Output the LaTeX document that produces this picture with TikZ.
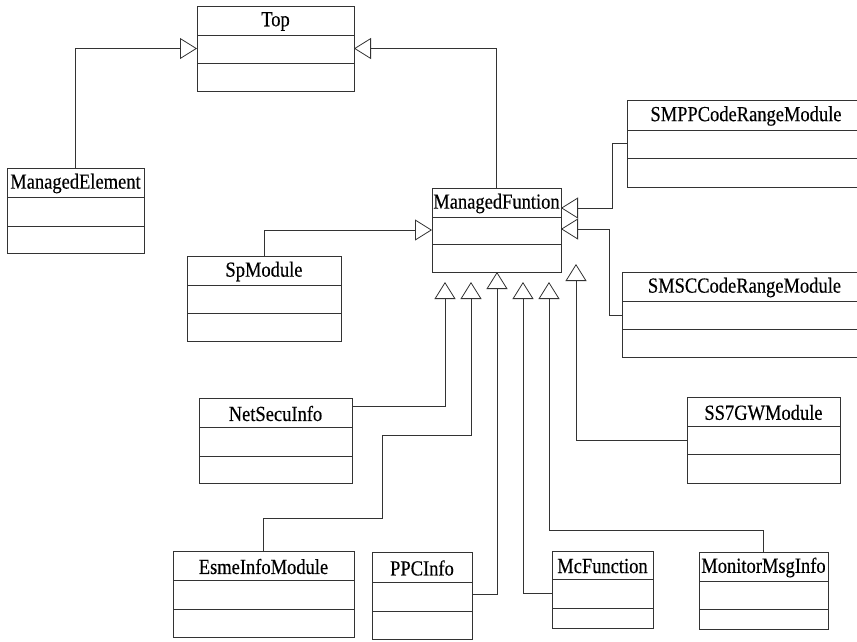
\documentclass[tikz,border=0pt]{standalone}
\usepackage{fontspec}
\setmainfont{Liberation Serif}[FakeStretch=0.86, FakeBold=0.3]
\usetikzlibrary{arrows.meta,calc}
\tikzset{
  ln/.style={draw=black!80, line width=0.8pt},
  cls/.style={ln, rectangle, inner sep=0pt, outer sep=0pt},
  lbl/.style={inner sep=0pt, font=\fontsize{21.5pt}{23pt}\selectfont},
  gen/.style={ln, -{Triangle[open, length=17pt, width=21pt, line width=0.8pt]}},
}
\newcommand{\umlbox}[8]{%
  \pgfmathsetmacro{\bw}{#4-#2}\pgfmathsetmacro{\bh}{#5-#3}%
  \node[cls, minimum width=\bw pt, minimum height=\bh pt, anchor=north west] (#1) at (#2,#3) {};
  \draw[ln] (#2,#6) -- (#4,#6);
  \draw[ln] (#2,#7) -- (#4,#7);
  \node[lbl] (#1-t) at ({(#2+#4)/2},{(#3+#6)/2+1}) {#8};
}
\begin{document}
\begin{tikzpicture}[x=1pt,y=-1pt]
\useasboundingbox (0,0) rectangle (857,641);
\clip (0,0) rectangle (857,641);
\umlbox{top}{197}{6}{354}{91}{35}{63}{Top}
\umlbox{me}{7}{168}{144}{253}{197}{226}{ManagedElement}
\umlbox{mf}{432}{188}{561}{272}{217}{244}{ManagedFuntion}
\umlbox{sp}{187}{256}{341}{341}{285}{313}{SpModule}
\umlbox{smpp}{627}{100}{865}{187}{130}{158}{SMPPCodeRangeModule}
\umlbox{smsc}{622}{272}{867}{357}{301}{329}{SMSCCodeRangeModule}
\umlbox{ss7}{687}{397}{840}{483}{426}{454}{SS7GWModule}
\umlbox{ns}{199}{398}{352}{483}{427}{456}{NetSecuInfo}
\umlbox{esme}{173}{551}{354}{637}{580}{609}{EsmeInfoModule}
\umlbox{ppc}{372}{552}{472}{639}{582}{611}{PPCInfo}
\umlbox{mcf}{552}{551}{653}{628}{579}{608}{McFunction}
\umlbox{mon}{699}{552}{828}{629}{581}{609}{MonitorMsgInfo}

% generalisations to Top
\draw[gen] (me.north) |- (top.west);
\draw[gen] (mf.north) |- (top.east);
% to ManagedFuntion
\draw[gen] (sp.north) |- (mf.west);
\coordinate (t1) at ($(mf.north east)+(0,20)$);
\coordinate (t2) at ($(mf.north east)+(0,41)$);
\draw[gen] (smpp.west) -- ++(-15,0) |- (t1);
\draw[gen] ($(smsc.north west)+(0,43)$) -- ++(-13,0) |- (t2);
\coordinate (b1) at ($(mf.south west)+(13,10)$);
\coordinate (b2) at ($(mf.south west)+(39,10)$);
\coordinate (b3) at ($(mf.south west)+(65,0)$);
\coordinate (b4) at ($(mf.south west)+(91,10)$);
\coordinate (b5) at ($(mf.south west)+(117,10)$);
\coordinate (b6) at ($(mf.south west)+(144,-8)$);
\draw[gen] ($(ns.north east)+(0,8)$) -| (b1);
\draw[gen] (esme.north) -- ++(0,-33) -- ++(119,0) -- ++(0,-83) -| (b2);
\draw[gen] ($(ppc.north east)+(0,42)$) -| (b3);
\draw[gen] ($(mcf.north west)+(0,42)$) -| (b4);
\draw[gen] (mon.north) -- ++(0,-22) -| (b5);
\draw[gen] ($(ss7.north west)+(0,43)$) -| (b6);
\end{tikzpicture}
\end{document}
